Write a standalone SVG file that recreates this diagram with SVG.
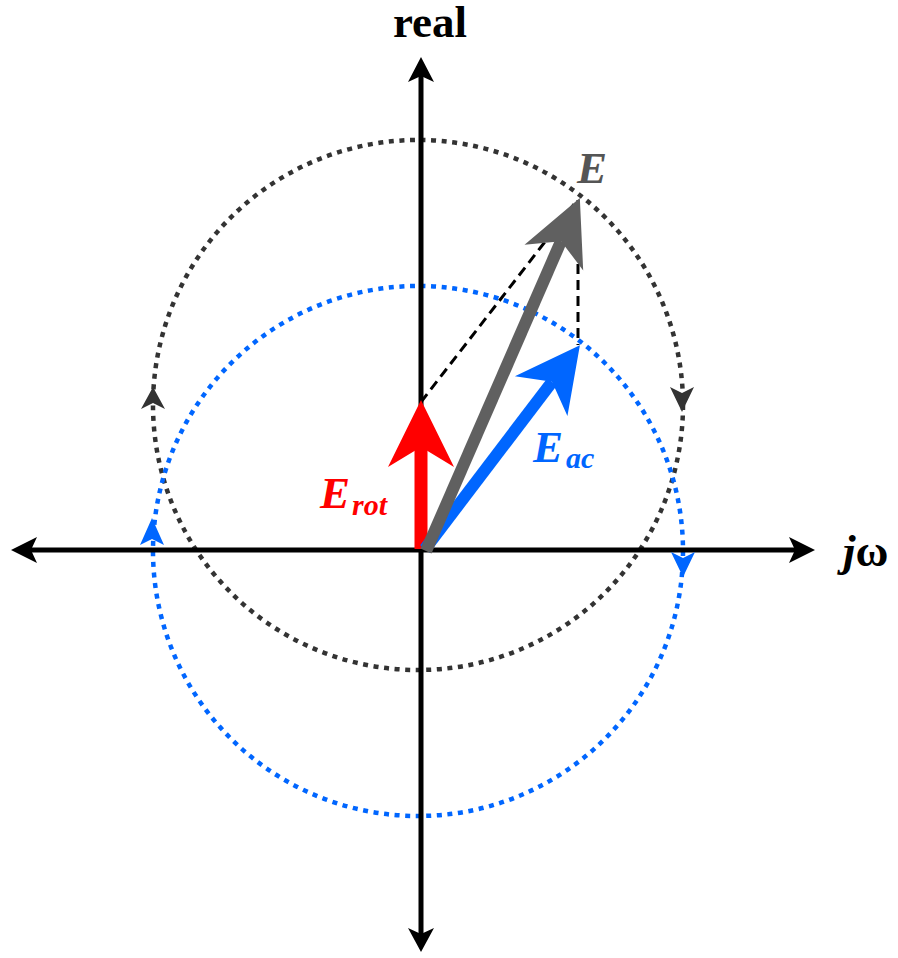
<svg xmlns="http://www.w3.org/2000/svg" width="898" height="958" viewBox="0 0 898 958">
<style>
.lbl{font-family:"Liberation Serif","Times New Roman",serif;font-weight:bold}
.it{font-style:italic}
.axis{stroke:#000;stroke-width:5;fill:none}
.dotk{fill:none;stroke:#333333;stroke-width:4.5;stroke-dasharray:5 5.6}
.dotb{fill:none;stroke:#0066FF;stroke-width:4.5;stroke-dasharray:5 5.6}
.dash{fill:none;stroke:#000;stroke-width:3;stroke-dasharray:10 6}
</style>
<rect width="898" height="958" fill="#fff"/>
<g id="circles">
  <circle id="circle-black" class="dotk" cx="418" cy="405" r="265"/>
  <circle id="circle-blue" class="dotb" cx="418" cy="551" r="265"/>
</g>
<g id="connectors">
  <line class="axis" x1="421" y1="72" x2="421" y2="936"/>
  <line class="axis" x1="27" y1="550" x2="800" y2="550"/>
  <polygon points="421,57 408,82 421,76 434,82" fill="#000"/>
  <polygon points="421,952 408,928 421,934 434,928" fill="#000"/>
  <polygon points="11,550 37,537 31,550 37,563" fill="#000"/>
  <polygon points="815,550 789,537 795,550 789,563" fill="#000"/>
  <polygon points="153,387 141,409 153,403 165,409" fill="#333333"/>
  <polygon points="682,412 670,387 682,393 694,387" fill="#333333"/>
  <polygon points="152,518 140,545 152,539 164,545" fill="#0066FF"/>
  <polygon points="683,577 671,552 683,558 695,552" fill="#0066FF"/>
  <line class="dash" x1="421" y1="402" x2="575" y2="203"/>
  <line class="dash" x1="578" y1="200" x2="578" y2="345"/>
</g>
<g id="E_rot">
  <g transform="translate(421,549) rotate(-90)">
    <line x1="0" y1="0" x2="102" y2="0" stroke="#FF0000" stroke-width="13"/>
    <polygon points="149,0 82,-33 102,0 82,33" fill="#FF0000"/>
  </g>
  <text class="lbl it" x="320" y="508" font-size="45" fill="#FF0000">E</text>
  <text class="lbl it" x="352" y="515" font-size="30" fill="#FF0000">rot</text>
</g>
<g id="E_ac">
  <g transform="translate(425,549) rotate(-52.77)">
    <line x1="0" y1="0" x2="210" y2="0" stroke="#0066FF" stroke-width="12"/>
    <polygon points="256,0 192,-33 210,0 192,33" fill="#0066FF"/>
  </g>
  <text class="lbl it" x="533" y="462" font-size="45" fill="#0066FF">E</text>
  <text class="lbl it" x="566" y="468" font-size="30" fill="#0066FF">ac</text>
</g>
<g id="E">
  <g transform="translate(426,551) rotate(-66.45)">
    <line x1="0" y1="0" x2="338" y2="0" stroke="#606060" stroke-width="12"/>
    <polygon points="385,0 320,-32 338,0 320,32" fill="#606060"/>
  </g>
  <text class="lbl it" x="577" y="183" font-size="45" fill="#555555">E</text>
</g>
<g id="label-real">
  <text class="lbl" x="430" y="37" font-size="45" text-anchor="middle" fill="#000">real</text>
</g>
<g id="label-jw">
  <text class="lbl" x="843" y="566" font-size="45" fill="#000"><tspan class="it">j</tspan>ω</text>
</g>
</svg>
